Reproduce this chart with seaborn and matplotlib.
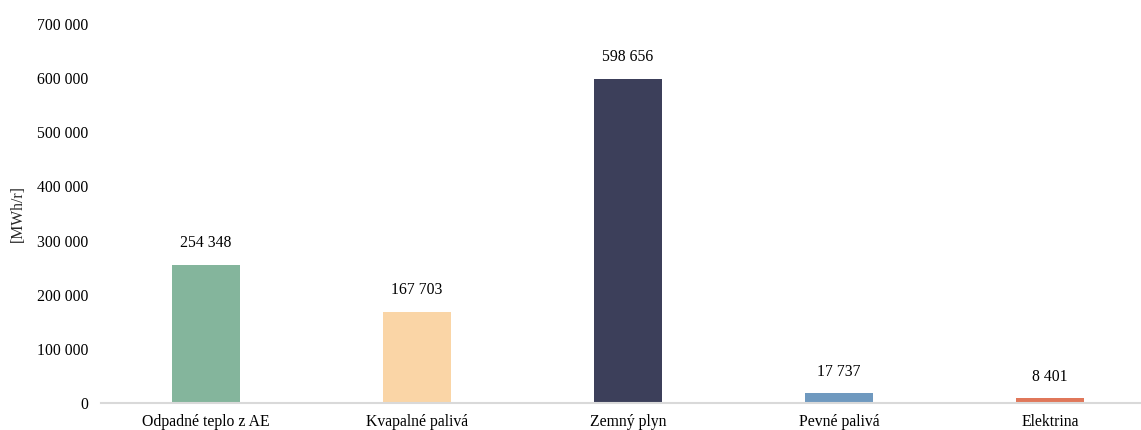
import matplotlib
matplotlib.use("Agg")
import matplotlib.pyplot as plt
import seaborn as sns
import pandas as pd
from matplotlib.ticker import FuncFormatter

categories = ["Odpadné teplo z AE", "Kvapalné palivá", "Zemný plyn", "Pevné palivá", "Elektrina"]
values = [254348, 167703, 598656, 17737, 8401]
colors = ["#84B59C", "#FAD5A6", "#3C3F5A", "#6F99BF", "#E0775A"]
y_ticks = [0, 100000, 200000, 300000, 400000, 500000, 600000, 700000]

sns.set_theme(style="white")
plt.rcParams["font.family"] = ["Liberation Serif", "DejaVu Serif"]

W, H = 1141, 430
fig = plt.figure(figsize=(W / 100, H / 100), dpi=100)
ax = fig.add_axes([100.5 / W, (H - 403) / H, 1055 / W, 379 / H])

df = pd.DataFrame({"cat": categories, "val": values})
sns.barplot(data=df, x="cat", y="val", hue="cat", palette=colors, legend=False,
            width=0.32, ax=ax, saturation=1, linewidth=0)

ax.set_ylim(0, 700000)
ax.set_xlim(-0.5, len(categories) - 0.5)
ax.set_yticks(y_ticks)
ax.yaxis.set_major_formatter(FuncFormatter(lambda v, p: f"{int(v):,}".replace(",", " ")))
ax.tick_params(axis="both", length=0, labelsize=11.3, colors="black")
ax.tick_params(axis="x", pad=8)
ax.tick_params(axis="y", pad=9)
ax.set_xlabel("")
ax.set_ylabel("[MWh/r]", fontsize=11.3, labelpad=8)

for s in ["top", "right", "left"]:
    ax.spines[s].set_visible(False)
ax.spines["bottom"].set_color("#D9D9D9")
ax.spines["bottom"].set_linewidth(1.5)

for i, v in enumerate(values):
    ax.annotate(f"{v:,}".replace(",", " "), (i, v), xytext=(0, 10), textcoords="offset points",
                ha="center", va="bottom", fontsize=11.3, color="black")

fig.savefig("out.png", dpi=100)
